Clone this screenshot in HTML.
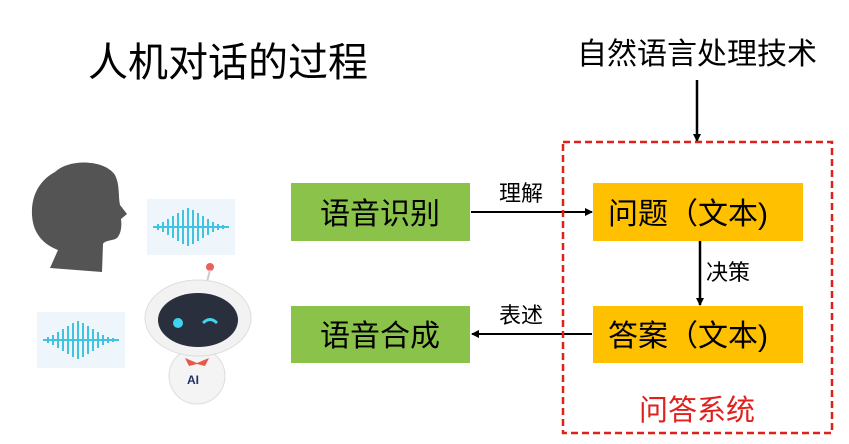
<!DOCTYPE html>
<html><head><meta charset="utf-8"><style>
html,body{margin:0;padding:0;background:#fff;}
svg{display:block;}
text{font-family:"Liberation Sans","Noto Sans CJK SC",sans-serif;}
</style></head><body>
<svg width="849" height="444" viewBox="0 0 849 444" xmlns="http://www.w3.org/2000/svg">
<defs>
<marker id="ar" markerWidth="8" markerHeight="8" refX="7" refY="4" orient="auto" markerUnits="userSpaceOnUse">
<path d="M0,0 L8,4 L0,8 z" fill="#000"/></marker>
</defs>
<text x="88" y="76" font-size="40" fill="#000">人机对话的过程</text>
<text x="577" y="64" font-size="30" fill="#000">自然语言处理技术</text>
<line x1="697" y1="80" x2="697" y2="141" stroke="#000" stroke-width="2.5" marker-end="url(#ar)"/>
<path d="M55,172 C70,158 105,160 115,175 C120,185 118,195 120,205 L127,214 L121,219 C122,226 121,234 117,238 C113,241 105,240 103,244 L102,272 L50,268 L58,250 C45,245 33,235 32,215 C31,195 40,180 55,172 z" fill="#545454"/>
<rect x="147" y="199" width="88" height="56" fill="#eef5fb"/>
<rect x="37" y="312" width="88" height="56" fill="#eef5fb"/>
<g stroke="#3ec3e0" stroke-width="2">
<path d="M153,227h76 M158,224v6 M163,222v10 M168,219v16 M173,216v22 M178,213v28 M183,210v34 M188,208v38 M193,210v34 M198,213v28 M203,216v22 M208,219v16 M213,222v10 M218,224v6 M223,225v4"/>
<path d="M43,340h76 M48,337v6 M53,335v10 M58,332v16 M63,329v22 M68,326v28 M73,323v34 M78,321v38 M83,323v34 M88,326v28 M93,329v22 M98,332v16 M103,335v10 M108,337v6 M113,338v4"/>
</g>
<circle cx="210" cy="267" r="4" fill="#e86060"/>
<line x1="210" y1="270" x2="207" y2="282" stroke="#ccc" stroke-width="2"/>
<ellipse cx="197" cy="376" rx="28" ry="28" fill="#f4f4f4" stroke="#ddd"/>
<ellipse cx="198" cy="318" rx="53" ry="38" fill="#f2f2f2" stroke="#ddd"/>
<ellipse cx="198" cy="320" rx="40" ry="27" fill="#2a2f3d"/>
<circle cx="178" cy="323" r="5" fill="#3fd4f0"/>
<path d="M203,323 q7,-7 14,0" stroke="#3fd4f0" stroke-width="3" fill="none"/>
<path d="M185,358 l12,5 l12,-5 l-4,8 l-8,-2 l-8,2z" fill="#e25a4a"/>
<text x="187" y="384" font-size="12" font-weight="bold" fill="#22306a">AI</text>
<rect x="291" y="183" width="179" height="58" fill="#8bc34a"/>
<rect x="291" y="306" width="179" height="57" fill="#8bc34a"/>
<rect x="593" y="183" width="210" height="58" fill="#ffc000"/>
<rect x="593" y="306" width="210" height="57" fill="#ffc000"/>
<text x="320" y="224" font-size="30" fill="#000">语音识别</text>
<text x="320" y="346" font-size="30" fill="#000">语音合成</text>
<text x="608" y="224" font-size="30" fill="#000">问题（文本)</text>
<text x="608" y="346" font-size="30" fill="#000">答案（文本)</text>
<line x1="471" y1="212" x2="592" y2="212" stroke="#000" stroke-width="2" marker-end="url(#ar)"/>
<line x1="592" y1="334" x2="472" y2="334" stroke="#000" stroke-width="2" marker-end="url(#ar)"/>
<line x1="700" y1="241" x2="700" y2="305" stroke="#000" stroke-width="2.5" marker-end="url(#ar)"/>
<text x="499" y="201" font-size="22" fill="#000">理解</text>
<text x="499" y="323" font-size="22" fill="#000">表述</text>
<text x="706" y="280" font-size="22" fill="#000">决策</text>
<rect x="563" y="142" width="269" height="291" fill="none" stroke="#e0201c" stroke-width="2.5" stroke-dasharray="7,4"/>
<text x="639" y="420" font-size="29" fill="#e0201c">问答系统</text>
</svg>
</body></html>
